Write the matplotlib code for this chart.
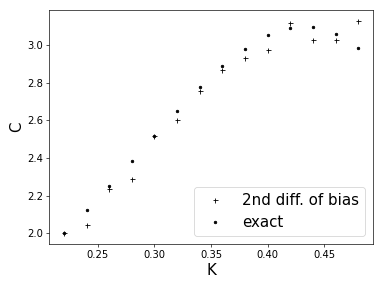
import numpy as np
import matplotlib
matplotlib.use('Agg')
import matplotlib.pyplot as plt

# data
K = [0.22, 0.24, 0.26, 0.28, 0.30, 0.32, 0.34, 0.36, 0.38, 0.40, 0.42, 0.44, 0.46, 0.48]
C_bias = [2.0, 2.044, 2.233, 2.287, 2.517, 2.603, 2.755, 2.868, 2.933, 2.975, 3.12, 3.03, 3.025, 3.13]
C_exact = [2.0, 2.125, 2.254, 2.383, 2.517, 2.652, 2.776, 2.889, 2.982, 3.053, 3.09, 3.094, 3.06, 2.984]

fig = plt.figure(figsize=[6.4, 4.8], dpi=60)
ax = fig.add_subplot(111)
ax.plot(K, C_bias, 'k+', label='2nd diff. of bias')
ax.plot(K, C_exact, 'k.', label='exact')
ax.set_xlabel('K', fontsize=18)
ax.set_ylabel('C', fontsize=18)
ax.tick_params(labelsize=12)
ax.legend(loc='lower right', fontsize=18)

plt.subplots_adjust(left=0.128, right=0.971, top=0.965, bottom=0.153)
plt.savefig('out.png', dpi=60)
